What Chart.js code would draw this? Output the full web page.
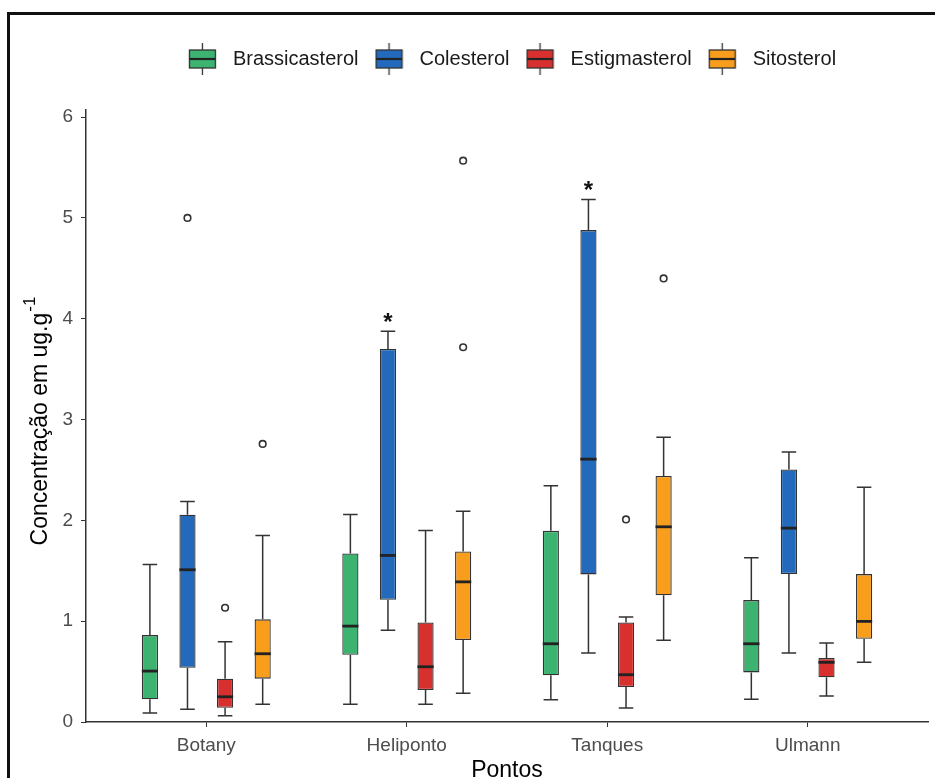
<!DOCTYPE html>
<html>
<head>
<meta charset="utf-8">
<script src="https://cdn.jsdelivr.net/npm/chart.js@4.4.1/dist/chart.umd.min.js"></script>
<style>
  html, body { margin: 0; padding: 0; background: #ffffff; }
  #wrap { position: relative; width: 935px; height: 778px; overflow: hidden; }
  #chart { position: absolute; left: 0; top: 0; }
  #frame {
    position: absolute; left: 7px; top: 12px; width: 960px; height: 800px;
    border: 3px solid #111; box-sizing: border-box; pointer-events: none;
  }
</style>
</head>
<body>
<div id="wrap">
  <canvas id="chart" width="935" height="778"></canvas>
  <div id="frame"></div>
</div>
<script>
// Sampling sites and sterols
const sites = ['Botany', 'Heliponto', 'Tanques', 'Ulmann'];
const sterols = ['Brassicasterol', 'Colesterol', 'Estigmasterol', 'Sitosterol'];

// Five-number summaries per site: [lower whisker, Q1, median, Q3, upper whisker] (ug/g)
const brassicasterol = [
  [0.09, 0.225, 0.505, 0.862, 1.563],
  [0.175, 0.667, 0.951, 1.672, 2.058],
  [0.22, 0.463, 0.776, 1.896, 2.342],
  [0.225, 0.492, 0.776, 1.209, 1.628]
];
const colesterol = [
  [0.126, 0.538, 1.51, 2.055, 2.187],
  [0.909, 1.212, 1.652, 3.70, 3.875],
  [0.684, 1.464, 2.607, 4.879, 5.183],
  [0.684, 1.467, 1.923, 2.504, 2.679]
];
const estigmasterol = [
  [0.062, 0.142, 0.25, 0.43, 0.796],
  [0.175, 0.317, 0.548, 0.988, 1.90],
  [0.139, 0.347, 0.469, 0.988, 1.041],
  [0.258, 0.443, 0.592, 0.634, 0.783]
];
const sitosterol = [
  [0.175, 0.43, 0.677, 1.018, 1.85],
  [0.284, 0.813, 1.39, 1.692, 2.091],
  [0.81, 1.256, 1.936, 2.441, 2.825],
  [0.592, 0.826, 0.998, 1.467, 2.329]
];

// Outlying observations per site
const brassicasterolOutliers = [[], [], [], []];
const colesterolOutliers = [[5.0], [], [], []];
const estigmasterolOutliers = [[1.133], [], [2.009], []];
const sitosterolOutliers = [[2.758], [3.717, 5.567], [4.40], []];

// Significance marks above the cholesterol boxes
const colesterolMarks = ['', '*', '*', ''];

const yTicks = [0, 1, 2, 3, 4, 5, 6];
const colours = ['#3cb371', '#236abd', '#d7302e', '#f99d1c'];

const stats = [brassicasterol, colesterol, estigmasterol, sitosterol];
const outliers = [brassicasterolOutliers, colesterolOutliers, estigmasterolOutliers, sitosterolOutliers];
const marks = [null, colesterolMarks, null, null];

const FONT = "'Liberation Sans', Arial, sans-serif";
const INK = '#333333';

// Small boxplot glyph used as the legend key
function keyGlyph(fill) {
  const c = document.createElement('canvas');
  c.width = 29; c.height = 32;
  const g = c.getContext('2d');
  g.strokeStyle = INK; g.lineWidth = 1.3;
  g.beginPath(); g.moveTo(14.5, 0); g.lineTo(14.5, 32); g.stroke();
  g.fillStyle = fill;
  g.fillRect(1.5, 7, 26, 18);
  g.strokeRect(1.5, 7, 26, 18);
  g.lineWidth = 2.2; g.strokeStyle = '#222';
  g.beginPath(); g.moveTo(1.5, 16); g.lineTo(27.5, 16); g.stroke();
  return c;
}

// Whiskers, medians, outliers and marks on top of the Q1–Q3 bars
const boxExtras = {
  id: 'boxExtras',
  afterDatasetsDraw(chart) {
    const ctx = chart.ctx;
    const y = chart.scales.y;
    chart.data.datasets.forEach((ds, k) => {
      const meta = chart.getDatasetMeta(k);
      meta.data.forEach((bar, i) => {
        const s = stats[k][i];
        const x = bar.x, w = bar.width;
        const cap = w * 0.9;
        const pLo = y.getPixelForValue(s[0]);
        const pQ1 = y.getPixelForValue(s[1]);
        const pMed = y.getPixelForValue(s[2]);
        const pQ3 = y.getPixelForValue(s[3]);
        const pHi = y.getPixelForValue(s[4]);
        ctx.save();
        ctx.strokeStyle = INK;
        ctx.lineWidth = 1.5;
        ctx.beginPath();
        ctx.moveTo(x, pQ1); ctx.lineTo(x, pLo);
        ctx.moveTo(x, pQ3); ctx.lineTo(x, pHi);
        ctx.moveTo(x - cap / 2, pLo); ctx.lineTo(x + cap / 2, pLo);
        ctx.moveTo(x - cap / 2, pHi); ctx.lineTo(x + cap / 2, pHi);
        ctx.stroke();
        ctx.strokeStyle = '#222';
        ctx.lineWidth = 2.8;
        ctx.beginPath();
        ctx.moveTo(x - w / 2, pMed); ctx.lineTo(x + w / 2, pMed);
        ctx.stroke();
        ctx.strokeStyle = INK;
        ctx.lineWidth = 1.6;
        outliers[k][i].forEach(v => {
          ctx.beginPath();
          ctx.arc(x, y.getPixelForValue(v), 3.3, 0, Math.PI * 2);
          ctx.stroke();
        });
        if (marks[k] && marks[k][i]) {
          ctx.fillStyle = '#111';
          ctx.font = 'bold 24px ' + FONT;
          ctx.textAlign = 'center';
          ctx.textBaseline = 'alphabetic';
          const m = ctx.measureText(marks[k][i]);
          const cy = pHi - 14;
          ctx.fillText(marks[k][i], x, cy + (m.actualBoundingBoxAscent - m.actualBoundingBoxDescent) / 2);
        }
        ctx.restore();
      });
    });
  },
  afterDraw(chart) {
    const ctx = chart.ctx;
    const a = chart.chartArea;
    ctx.save();
    ctx.fillStyle = '#000';
    // x-axis title
    ctx.font = '23px ' + FONT;
    ctx.textAlign = 'center';
    ctx.textBaseline = 'alphabetic';
    ctx.fillText('Pontos', (a.left + a.right) / 2, 777);
    // y-axis title with superscript unit
    const main = 'Concentração em ug.g';
    const sup = '-1';
    ctx.font = '23px ' + FONT;
    const wMain = ctx.measureText(main).width;
    ctx.font = '17px ' + FONT;
    const wSup = ctx.measureText(sup).width;
    const total = wMain + 1 + wSup;
    ctx.translate(47, (a.top + a.bottom) / 2 + 5);
    ctx.rotate(-Math.PI / 2);
    ctx.textAlign = 'left';
    ctx.font = '23px ' + FONT;
    ctx.fillText(main, -total / 2, 0);
    ctx.font = '17px ' + FONT;
    ctx.fillText(sup, -total / 2 + wMain + 1, -12);
    ctx.restore();
  }
};

// Legend block height and horizontal placement
const legendPlacement = {
  id: 'legendPlacement',
  afterInit(chart) {
    const lg = chart.legend;
    if (!lg) return;
    const fit = lg.fit.bind(lg);
    lg.fit = function () { fit(); this.height = 71; };
    const draw = lg.draw.bind(lg);
    lg.draw = function () {
      const c = this.ctx;
      c.save(); c.translate(45, 0); draw(); c.restore();
    };
  }
};

const datasets = sterols.map((name, k) => ({
  label: name,
  data: stats[k].map((s, i) => ({ x: i + 1, y: [s[1], s[3]] })),
  backgroundColor: colours[k],
  borderColor: INK,
  borderWidth: 1.3,
  borderSkipped: false,
  categoryPercentage: 0.75,
  barPercentage: 0.43
}));

new Chart(document.getElementById('chart'), {
  type: 'bar',
  data: { datasets },
  plugins: [boxExtras, legendPlacement],
  options: {
    responsive: false,
    animation: false,
    layout: { padding: { left: 0, right: 7, top: 39, bottom: 0 } },
    plugins: {
      tooltip: { enabled: false },
      legend: {
        position: 'top',
        labels: {
          usePointStyle: true,
          pointStyleWidth: 41,
          padding: 10,
          color: '#1a1a1a',
          font: { family: FONT, size: 20 },
          generateLabels: () => sterols.map((name, k) => ({
            text: name,
            pointStyle: keyGlyph(colours[k]),
            fillStyle: colours[k],
            strokeStyle: INK,
            fontColor: '#1a1a1a',
            lineWidth: 0,
            hidden: false,
            datasetIndex: k
          }))
        }
      }
    },
    scales: {
      x: {
        type: 'linear',
        min: 0.4,
        max: 4.6,
        offset: false,
        afterBuildTicks: s => { s.ticks = sites.map((_, i) => ({ value: i + 1 })); },
        afterFit: s => { s.height = 56; },
        grid: { display: true, drawOnChartArea: false, drawTicks: true, tickLength: 5, color: INK, offset: false },
        border: { display: true, color: INK, width: 1.5 },
        ticks: {
          color: '#4d4d4d',
          padding: 7,
          maxRotation: 0,
          autoSkip: false,
          font: { family: FONT, size: 19 },
          callback: v => sites[v - 1]
        }
      },
      y: {
        min: 0,
        max: 6.07,
        afterBuildTicks: s => { s.ticks = yTicks.map(v => ({ value: v })); },
        afterFit: s => { s.width = 86; },
        grid: { display: true, drawOnChartArea: false, drawTicks: true, tickLength: 5, color: INK },
        border: { display: true, color: INK, width: 1.5 },
        ticks: {
          color: '#4d4d4d',
          padding: 8,
          font: { family: FONT, size: 19 },
          callback: v => String(v)
        }
      }
    }
  }
});
</script>
</body>
</html>
